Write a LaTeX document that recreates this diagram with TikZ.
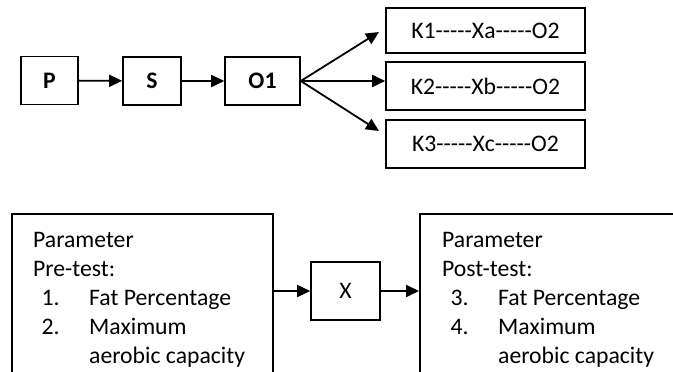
\documentclass[tikz,border=0pt]{standalone}
\usepackage{fontspec}
\setmainfont{Carlito}[Ligatures=TeXOff]
\usetikzlibrary{arrows.meta}
\tikzset{
  box/.style={draw=black, line width=1.6pt, inner sep=0pt, font=\fontsize{23.7}{29}\selectfont},
  bbox/.style={box, font=\fontsize{23.7}{29}\selectfont\bfseries},
  conn/.style={line width=1.8pt, -{Triangle[length=13pt,width=12pt]}},
  txt/.style={inner sep=0pt, align=left, font=\fontsize{23.7}{29}\selectfont},
}
\newcommand{\itm}[2]{\hspace*{8.5pt}\makebox[47.5pt][l]{#1}#2}
\begin{document}
\begin{tikzpicture}[x=1pt,y=-1pt]
\useasboundingbox (0,0) rectangle (673,372);
\clip (0,0) rectangle (673,372);
% top row
\node[bbox, minimum width=57pt, minimum height=48pt] (p) at (49.5,80.5) {P};
\node[bbox, minimum width=58pt, minimum height=48pt] (s) at (152,81) {S};
\node[bbox, minimum width=75pt, minimum height=48pt] (o1) at (262.5,81) {O1};
\node[box, minimum width=199pt, minimum height=45pt] (k1) at (485.5,30.5) {K1-----Xa-----O2};
\node[box, minimum width=199pt, minimum height=48pt] (k2) at (485.5,86) {K2-----Xb-----O2};
\node[box, minimum width=199pt, minimum height=48pt] (k3) at (485.5,144) {K3-----Xc-----O2};
\coordinate (t1) at (379,32);
\coordinate (t3) at (379,131);
\draw[conn] (p) -- (s);
\draw[conn] (s) -- (o1);
\draw[conn] (o1.east) -- (t1);
\draw[conn] (o1.east) -- (o1.east -| k2.west);
\draw[conn] (o1.east) -- (t3);
% bottom row
\node[box, anchor=north west, minimum width=261pt, minimum height=190pt] (pre) at (11,213) {};
\node[box, minimum width=69pt, minimum height=58pt] (x) at (345.5,291) {X};
\node[box, anchor=north west, minimum width=290pt, minimum height=190pt] (post) at (419,213) {};
\node[txt, anchor=base west] (pretext) at (33,363) {Parameter\\Pre-test:\\\itm{1.}{Fat Percentage}\\\itm{2.}{Maximum}\\\itm{}{aerobic capacity}};
\node[txt, anchor=base west] (posttext) at (442,363) {Parameter\\Post-test:\\\itm{3.}{Fat Percentage}\\\itm{4.}{Maximum}\\\itm{}{aerobic capacity}};
\draw[conn] (pre.east |- x.west) -- (x.west);
\draw[conn] (x.east) -- (post.west |- x.east);
\end{tikzpicture}
\end{document}
